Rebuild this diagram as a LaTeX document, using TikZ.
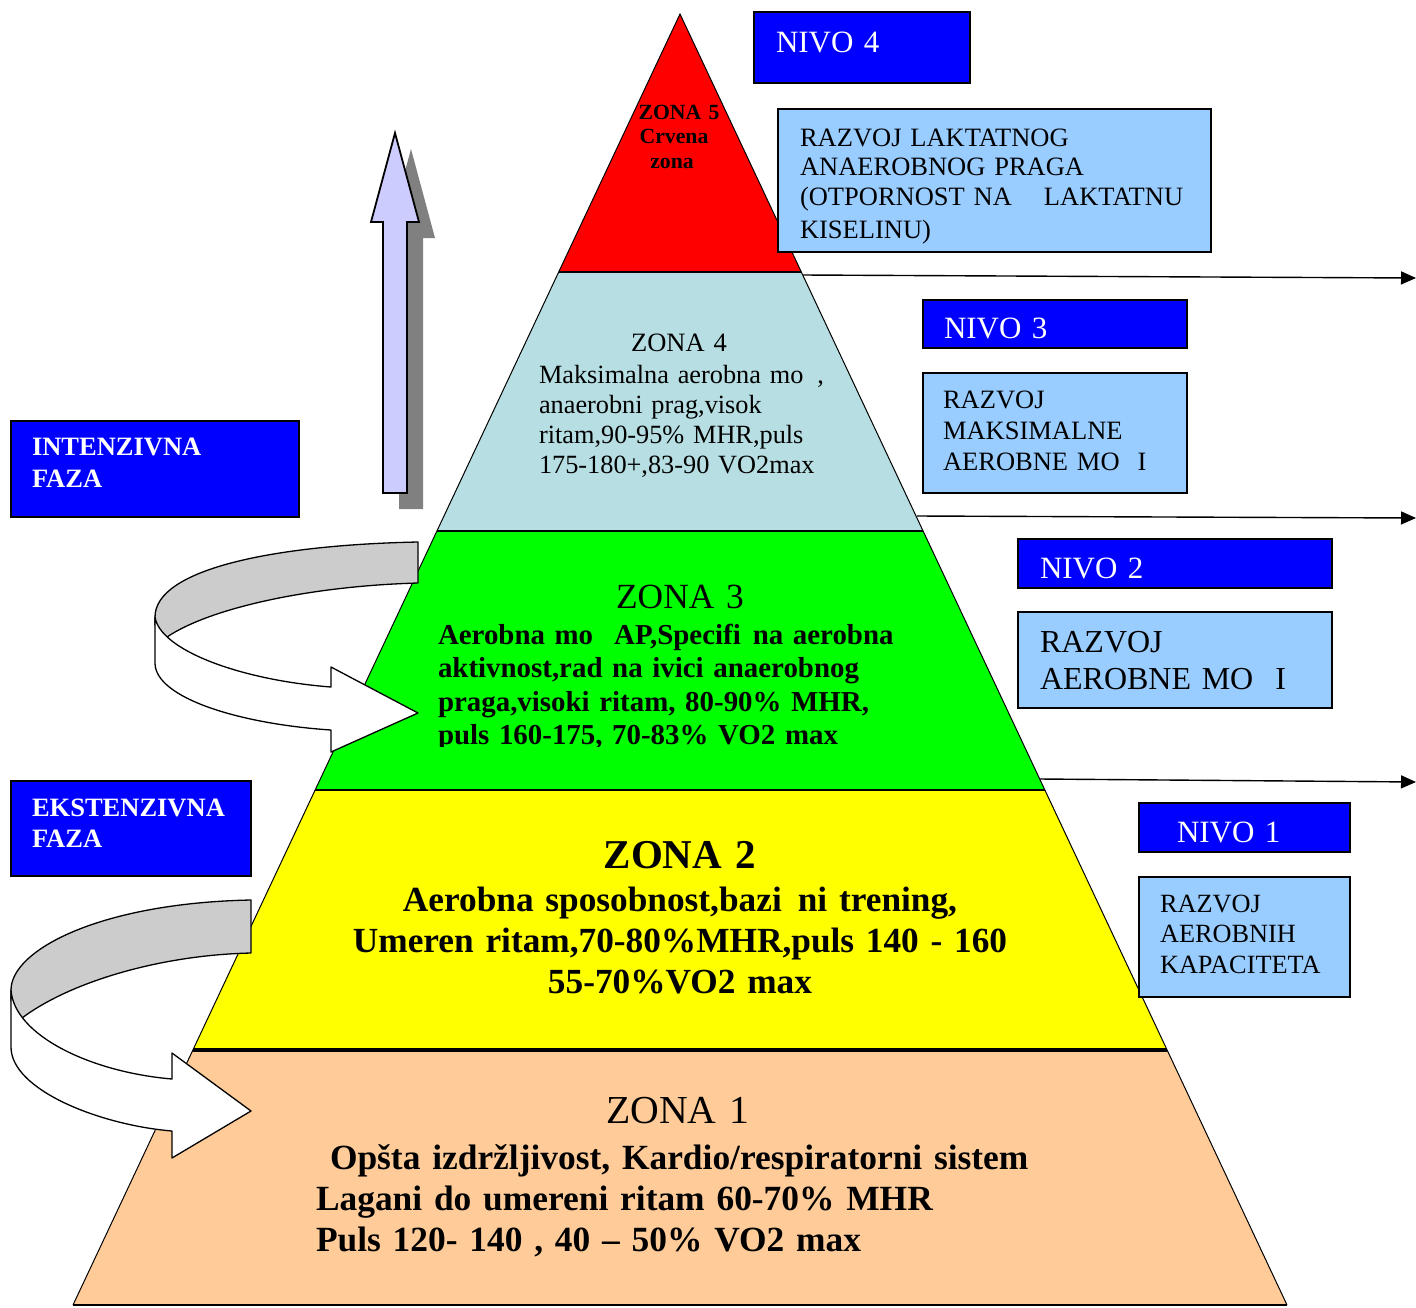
\documentclass[tikz,border=0pt]{standalone}
\usepackage{fontspec}
\setmainfont{Liberation Serif}
\usetikzlibrary{arrows.meta}
\definecolor{zonered}{RGB}{255,0,0}
\definecolor{zonecyan}{RGB}{183,222,226}
\definecolor{zonegreen}{RGB}{0,255,0}
\definecolor{zoneyellow}{RGB}{255,255,0}
\definecolor{zonepeach}{RGB}{255,204,153}
\definecolor{nivoblue}{RGB}{0,0,255}
\definecolor{infoblue}{RGB}{153,204,255}
\definecolor{arrowlav}{RGB}{204,204,255}
\definecolor{shadowgray}{RGB}{128,128,128}
\definecolor{bandgray}{RGB}{204,204,204}
\begin{document}
\begin{tikzpicture}[x=1pt,y=-1pt,
  edge/.style={draw=black,line width=1pt},
  tier/.style={draw=black,line width=1.6pt},
  nivobox/.style={draw=black,line width=2pt,fill=nivoblue},
  infobox/.style={draw=black,line width=2.4pt,fill=infoblue},
  conn/.style={draw=black,line width=1.4pt,-{Triangle[length=15pt,width=13pt]}},
  band/.style={draw=black,line width=1.3pt,line join=round},
  lefttext/.style={inner sep=0pt,outer sep=0pt,anchor=base west,align=left,text width=#1},
  midtext/.style={inner sep=0pt,outer sep=0pt,anchor=base,align=center,text width=#1},
]
\useasboundingbox (0,0) rectangle (1416,1307);

% pyramid corners
\coordinate (apex) at (680,14);
\coordinate (l4) at (558.7,272);  \coordinate (r4) at (801.3,272);
\coordinate (l3) at (436.9,531);  \coordinate (r3) at (923.1,531);
\coordinate (l2) at (315.1,790);  \coordinate (r2) at (1044.9,790);
\coordinate (l1) at (192.9,1050); \coordinate (r1) at (1167.1,1050);
\coordinate (bl) at (73,1305);    \coordinate (br) at (1287,1305);

% zone fills
\fill[zonered] (apex) -- (r4) -- (l4) -- cycle;
\fill[zonecyan] (l4) -- (r4) -- (r3) -- (l3) -- cycle;
\fill[zonegreen] (l3) -- (r3) -- (r2) -- (l2) -- cycle;
\fill[zoneyellow] (l2) -- (r2) -- (r1) -- (l1) -- cycle;
\fill[zonepeach] (l1) -- (r1) -- (br) -- (bl) -- cycle;

% pyramid outline and tier borders
\draw[edge] (bl) -- (apex) -- (br);
\draw[tier] (l4) -- (r4);
\draw[tier] (l3) -- (r3);
\draw[tier] (l2) -- (r2);
\draw[draw=black,line width=3.2pt] (l1) -- (r1);
\draw[draw=black,line width=2pt] (bl) -- (br);

% level arrows to the right
\coordinate (e1) at (803,275);  \coordinate (t1) at (1416,278);
\coordinate (e2) at (917,516);  \coordinate (t2) at (1416,518);
\coordinate (e3) at (1040,779); \coordinate (t3) at (1416,782);
\draw[conn] (e1) -- (t1);
\draw[conn] (e2) -- (t2);
\draw[conn] (e3) -- (t3);

% upward block arrow with shadow
\fill[shadowgray,shift={(16,16)}] (395,133) -- (419,222) -- (407,222) -- (407,493)
  -- (383,493) -- (383,222) -- (371,222) -- cycle;
\filldraw[fill=arrowlav,draw=black,line width=1.8pt,line join=miter]
  (395,133) -- (419,222) -- (407,222) -- (407,493)
  -- (383,493) -- (383,222) -- (371,222) -- cycle;

% zone texts
\node[midtext=120pt,font=\bfseries\fontsize{21.7}{24.5}\selectfont] (z5)
  at (679,119) {ZONA 5\\Crvena\kern10pt\\zona\kern14pt};
\node[midtext=140pt,font=\fontsize{26.5}{30}\selectfont] (z4h) at (679,351) {ZONA 4};
\node[lefttext=320pt,font=\fontsize{26.3}{30.2}\selectfont] (z4b) at (539,383)
  {Maksimalna aerobna mo\hspace{14pt},\\anaerobni prag,visok\\ritam,90-95\% MHR,puls\\175-180+,83-90 VO2max};
\node[midtext=200pt,font=\fontsize{35.4}{40}\selectfont] (z3h) at (680,608) {ZONA 3};
\begin{scope}
  \clip (420,615) rectangle (920,746);
  \node[lefttext=520pt,font=\bfseries\fontsize{28.9}{33.3}\selectfont] (z3b) at (438,644.5)
    {Aerobna mo\hspace{21pt}AP,Specifi\hspace{12pt}na aerobna\\aktivnost,rad na ivici anaerobnog\\praga,visoki ritam, 80-90\% MHR,\\puls 160-175, 70-83\% VO2 max};
\end{scope}
\node[midtext=300pt,font=\bfseries\fontsize{41}{45}\selectfont] (z2h) at (680,868) {ZONA 2};
\node[midtext=760pt,font=\bfseries\fontsize{35.3}{41}\selectfont] (z2b) at (680,911)
  {Aerobna sposobnost,bazi\hspace{16pt}ni trening,\\Umeren ritam,70-80\%MHR,puls 140 - 160\\55-70\%VO2 max};
\node[midtext=300pt,font=\fontsize{39.7}{44}\selectfont] (z1h) at (678,1123) {ZONA 1};
\node[lefttext=800pt,font=\bfseries\fontsize{35.4}{41.3}\selectfont] (z1b) at (316,1169)
  {\hspace*{14pt}Opšta izdržljivost, Kardio/respiratorni sistem\\Lagani do umereni ritam 60-70\% MHR\\Puls 120- 140 , 40 – 50\% VO2 max};

% level boxes
\draw[nivobox] (754,12) rectangle (970,83);
\node[lefttext=200pt,text=white,font=\fontsize{31}{35}\selectfont] (n4) at (776,52) {NIVO 4};
\draw[infobox] (778,109) rectangle (1211,252);
\node[lefttext=420pt,font=\fontsize{26.5}{29.5}\selectfont] (d4) at (800,146)
  {RAZVOJ LAKTATNOG\\ANAEROBNOG PRAGA\\(OTPORNOST NA\hspace{32pt}LAKTATNU\\[4pt]KISELINU)};

\draw[nivobox] (923,300) rectangle (1187,348);
\begin{scope}
  \clip (925,302) rectangle (1185,338.5);
  \node[lefttext=200pt,text=white,font=\fontsize{31}{35}\selectfont] (n3) at (944,338) {NIVO 3};
\end{scope}
\draw[infobox] (923,373) rectangle (1187,493);
\node[lefttext=240pt,font=\fontsize{26.5}{31}\selectfont] (d3) at (943,408)
  {RAZVOJ\\MAKSIMALNE\\AEROBNE MO\hspace{18pt}I};

\draw[nivobox] (1018,539) rectangle (1332,588);
\begin{scope}
  \clip (1020,541) rectangle (1330,578.5);
  \node[lefttext=200pt,text=white,font=\fontsize{31}{35}\selectfont] (n2) at (1040,578) {NIVO 2};
\end{scope}
\draw[infobox] (1018,612) rectangle (1332,708);
\node[lefttext=290pt,font=\fontsize{32}{37}\selectfont] (d2) at (1040,652)
  {RAZVOJ\\AEROBNE MO\hspace{22pt}I};

\draw[nivobox] (1139,803) rectangle (1350,852);
\begin{scope}
  \clip (1141,805) rectangle (1348,842.5);
  \node[lefttext=200pt,text=white,font=\fontsize{31}{35}\selectfont] (n1) at (1177,842) {NIVO 1};
\end{scope}
\draw[infobox] (1139,877) rectangle (1350,997);
\node[lefttext=200pt,font=\fontsize{26.3}{30.5}\selectfont] (d1) at (1160,912)
  {RAZVOJ\\AEROBNIH\\KAPACITETA};

% phase boxes
\draw[nivobox] (11,421) rectangle (299,517);
\node[lefttext=260pt,text=white,font=\bfseries\fontsize{26.5}{32}\selectfont] (fi) at (32,455)
  {INTENZIVNA\\FAZA};
\draw[nivobox] (11,781) rectangle (251,876);
\node[lefttext=220pt,text=white,font=\bfseries\fontsize{26.5}{31}\selectfont] (fe) at (32,816)
  {EKSTENZIVNA\\FAZA};

% curved arrow into zone 3
\filldraw[band,fill=bandgray] (418,542) .. controls (270,545) and (155,570) .. (155,617)
  -- (155,625) .. controls (157,630) and (162,634) .. (167,637)
  .. controls (210,608) and (310,586) .. (418,583) -- cycle;
\filldraw[band,fill=white] (155,617) -- (155,663) .. controls (155,698) and (240,724) .. (331,730)
  -- (331,752) -- (418,713) -- (331,667) -- (331,687)
  .. controls (240,680) and (160,650) .. (155,617) -- cycle;

% curved arrow into zone 1
\filldraw[band,fill=bandgray] (251,900) .. controls (100,903) and (11,950) .. (11,990)
  -- (11,1000) .. controls (13,1008) and (17,1014) .. (22,1018)
  .. controls (70,982) and (160,955) .. (251,953) -- cycle;
\filldraw[band,fill=white] (11,990) -- (11,1047) .. controls (11,1090) and (100,1125) .. (172,1131)
  -- (172,1158) -- (251,1111) -- (172,1053) -- (172,1079)
  .. controls (90,1072) and (14,1035) .. (11,990) -- cycle;
\end{tikzpicture}
\end{document}
